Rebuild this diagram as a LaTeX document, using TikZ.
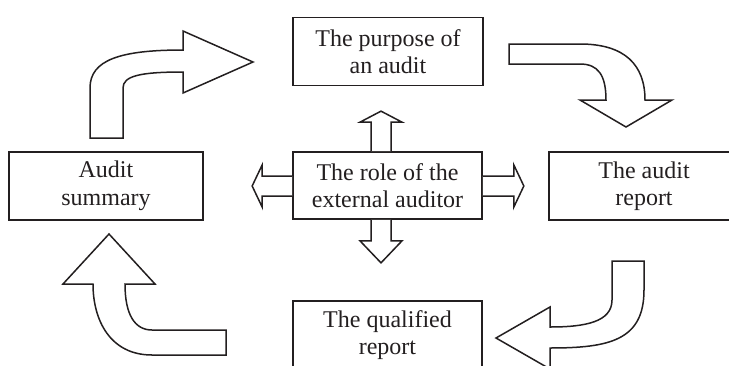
\documentclass[tikz,border=0pt]{standalone}
\usepackage{fontspec}
\setmainfont{Liberation Serif}
\usetikzlibrary{calc}
\definecolor{ink}{RGB}{35,31,32}
\begin{document}
\begin{tikzpicture}[x=1pt,y=-1pt,
  box/.style={draw=ink, line width=1.7pt, rectangle, minimum width=190pt,
    minimum height=68pt, align=center, inner sep=0pt, text=ink,
    font=\fontsize{24}{27.5}\selectfont},
  fat/.style={draw=ink, line width=1.5pt, fill=white, line join=miter}]
\useasboundingbox (0,0) rectangle (729,365);
\clip (0,0) rectangle (729,365);

% the five topic boxes
\node[box] (purpose) at (388,51.5) {The purpose of\\an audit};
\node[box, minimum width=189pt, minimum height=67pt] (role) at (387.5,185.5) {The role of the\\external auditor};
\node[box, minimum width=194pt] (summary) at (106,186) {Audit\\summary};
\node[box] (report) at (644,186) {The audit\\report};
\node[box, minimum width=189pt] (qualified) at (387.5,335) {The qualified\\report};

% block arrows leaving the central box
\draw[fat] ($(role.north)+(-16.5,0)$) -- ++(0,-29) -- ++(-11,0) -- ++(21,-11)
  -- ++(21,11) -- ++(-11,0) -- ++(0,29);
\draw[fat] ($(role.south)+(-16.5,0)$) -- ++(0,21) -- ++(-11,0) -- ++(21,22)
  -- ++(21,-22) -- ++(-11,0) -- ++(0,-21);
\draw[fat] ($(role.west)+(0,-9.5)$) -- ++(-30,0) -- ++(0,-11) -- ++(-10,21)
  -- ++(10,21) -- ++(0,-11) -- ++(30,0);
\draw[fat] ($(role.east)+(0,-9.5)$) -- ++(31,0) -- ++(0,-11) -- ++(10,21)
  -- ++(-10,21) -- ++(0,-11) -- ++(-31,0);

% curved block arrows running clockwise round the cycle
\draw[fat] (90,138) -- (90,88) .. controls (90,60) and (120,50) .. (183,50)
  -- (183,31) -- (253,62) -- (183,93) -- (183,72)
  .. controls (140,72) and (123,76) .. (123,88) -- (123,138) -- cycle;
\draw[fat] (509,44) -- (580,44) .. controls (625,44) and (645,65) .. (645,100)
  -- (672,100) -- (626,127) -- (580,100) -- (606,100)
  .. controls (606,75) and (598,64) .. (580,64) -- (509,64) -- cycle;
\draw[fat] (612,261) -- (644,261) -- (644,290)
  .. controls (644,340) and (610,348) .. (550,348)
  -- (550,369) -- (496,338) -- (550,307) -- (550,327)
  .. controls (585,327) and (612,322) .. (612,300) -- cycle;
\draw[fat] (93,284) -- (63,284) -- (109,234) -- (155,284) -- (125,284)
  .. controls (125,315) and (135,330) .. (152,330) -- (226,330) -- (226,355)
  -- (152,355) .. controls (110,355) and (93,320) .. (93,284) -- cycle;
\end{tikzpicture}
\end{document}
